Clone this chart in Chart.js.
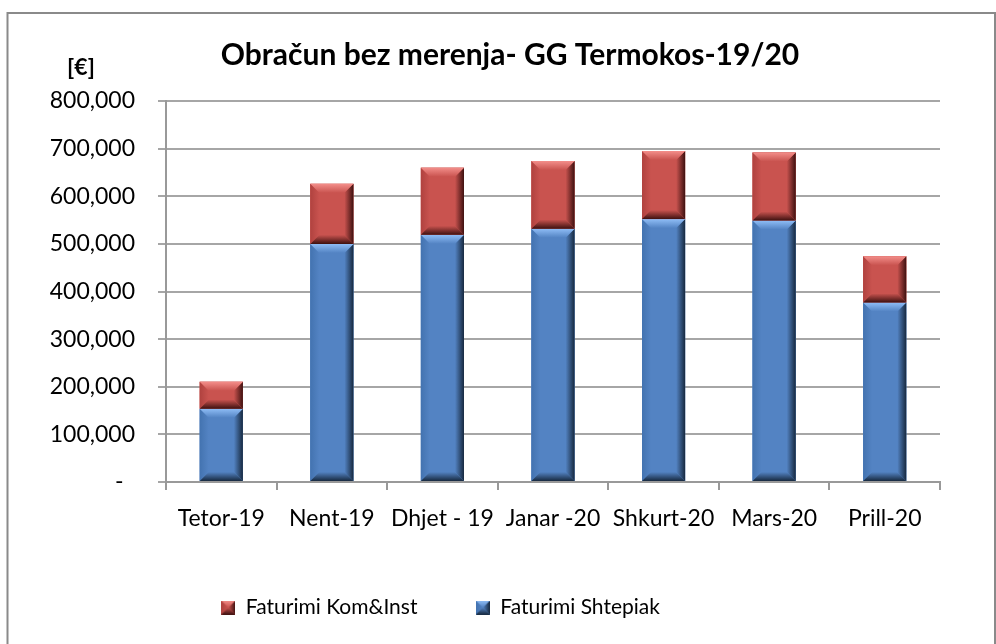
<!DOCTYPE html>
<html>
<head>
<meta charset="utf-8">
<script src="https://cdn.jsdelivr.net/npm/chart.js@4.4.1/dist/chart.umd.min.js"></script>
<style>
  html, body { margin: 0; padding: 0; background: #fff; }
  #wrap { width: 996px; height: 644px; }
</style>
</head>
<body>
<div id="wrap"><canvas id="chart" width="996" height="644"></canvas></div>
<script>
// data
const months = ['Tetor-19', 'Nent-19', 'Dhjet - 19', 'Janar -20', 'Shkurt-20', 'Mars-20', 'Prill-20'];
const shtepiak = [154000, 500000, 519000, 532000, 552000, 549000, 377000];
const komInst = [56500, 126000, 141000, 142000, 143000, 143000, 97000];
const yTicks = [0, 100000, 200000, 300000, 400000, 500000, 600000, 700000, 800000];

const FONT = 'Lato, "Open Sans", sans-serif';

const blue = { face: '#5383C3', light: '#8FBDF6', dark: '#17293F', left: '#4373B0' };
const red = { face: '#C9534F', light: '#F38E8A', dark: '#3E1110', left: '#B0423F' };

// bevelled box, Excel "cool slant" look
function drawBevel(ctx, l, t, r, b, c, size) {
  const d = Math.min(size, (b - t) / 2, (r - l) / 2);
  ctx.save();
  ctx.fillStyle = c.face;
  ctx.fillRect(l, t, r - l, b - t);

  let g = ctx.createLinearGradient(l, 0, l + d, 0);
  g.addColorStop(0, c.left); g.addColorStop(1, c.face);
  ctx.fillStyle = g;
  ctx.beginPath();
  ctx.moveTo(l, t); ctx.lineTo(l + d, t + d); ctx.lineTo(l + d, b - d); ctx.lineTo(l, b);
  ctx.closePath(); ctx.fill();

  g = ctx.createLinearGradient(r - d, 0, r, 0);
  g.addColorStop(0, c.face); g.addColorStop(1, c.dark);
  ctx.fillStyle = g;
  ctx.beginPath();
  ctx.moveTo(r, t); ctx.lineTo(r - d, t + d); ctx.lineTo(r - d, b - d); ctx.lineTo(r, b);
  ctx.closePath(); ctx.fill();

  g = ctx.createLinearGradient(0, b - d, 0, b);
  g.addColorStop(0, c.face); g.addColorStop(1, c.dark);
  ctx.fillStyle = g;
  ctx.beginPath();
  ctx.moveTo(l, b); ctx.lineTo(l + d, b - d); ctx.lineTo(r - d, b - d); ctx.lineTo(r, b);
  ctx.closePath(); ctx.fill();

  g = ctx.createLinearGradient(0, t, 0, t + d);
  g.addColorStop(0, c.light); g.addColorStop(1, c.face);
  ctx.fillStyle = g;
  ctx.beginPath();
  ctx.moveTo(l, t); ctx.lineTo(r, t); ctx.lineTo(r - d, t + d); ctx.lineTo(l + d, t + d);
  ctx.closePath(); ctx.fill();
  ctx.restore();
}

function legendIcon(c) {
  const cv = document.createElement('canvas');
  cv.width = 14; cv.height = 14;
  drawBevel(cv.getContext('2d'), 0, 0, 14, 14, c, 7);
  return cv;
}

const bevelBars = {
  id: 'bevelBars',
  afterDatasetsDraw(chart) {
    const ctx = chart.ctx;
    chart.data.datasets.forEach((ds, i) => {
      const meta = chart.getDatasetMeta(i);
      meta.data.forEach(bar => {
        const p = bar.getProps(['x', 'y', 'base', 'width'], true);
        const l = p.x - p.width / 2, r = p.x + p.width / 2;
        drawBevel(ctx, l, Math.min(p.y, p.base), r, Math.max(p.y, p.base), ds.bevel, 9);
      });
    });
  }
};

const frame = {
  id: 'frame',
  beforeDraw(chart) {
    const ctx = chart.ctx;
    ctx.save();
    ctx.fillStyle = '#fff';
    ctx.fillRect(0, 0, chart.width, chart.height);
    ctx.strokeStyle = '#8a8a8a';
    ctx.lineWidth = 2;
    ctx.strokeRect(7.5, 13, 987.5, 700);
    ctx.restore();
  },
  afterDraw(chart) {
    const ctx = chart.ctx;
    ctx.save();
    ctx.fillStyle = '#000';
    ctx.textAlign = 'center';
    ctx.textBaseline = 'middle';
    ctx.font = 'bold 30px ' + FONT;
    ctx.fillText('Obračun bez merenja- GG Termokos-19/20', 510, 55);
    ctx.font = 'bold 23px ' + FONT;
    ctx.fillText('[€]', 81, 68);
    ctx.restore();
  }
};

const datasets = [
  { label: 'Faturimi Shtepiak', data: shtepiak, backgroundColor: blue.face, bevel: blue, icon: legendIcon(blue) },
  { label: 'Faturimi Kom&Inst', data: komInst, backgroundColor: red.face, bevel: red, icon: legendIcon(red) }
];

new Chart(document.getElementById('chart'), {
  type: 'bar',
  data: { labels: months, datasets: datasets },
  plugins: [frame, bevelBars],
  options: {
    responsive: false,
    animation: false,
    layout: { padding: { top: 101, left: 20, right: 56, bottom: 16 } },
    datasets: { bar: { categoryPercentage: 0.39, barPercentage: 1, borderWidth: 0 } },
    scales: {
      x: {
        stacked: true,
        grid: { display: true, drawOnChartArea: false, offset: true, color: '#999', lineWidth: 2, tickLength: 8 },
        border: { color: '#999', width: 2 },
        ticks: { color: '#000', font: { family: FONT, size: 23 }, padding: 15, maxRotation: 0 },
        afterFit(scale) { scale.height = 75; }
      },
      y: {
        stacked: true,
        min: 0,
        max: 800000,
        afterBuildTicks(scale) { scale.ticks = yTicks.map(v => ({ value: v })); },
        grid: { color: '#a6a6a6', lineWidth: 2, tickLength: 8 },
        border: { color: '#999', width: 2 },
        ticks: {
          color: '#000',
          font: { family: FONT, size: 23 },
          padding: 23,
          callback: v => v === 0 ? '-\u2002' : v.toLocaleString('en-US')
        },
        afterFit(scale) { scale.width = 146; }
      }
    },
    plugins: {
      tooltip: { enabled: false },
      legend: {
        position: 'bottom',
        labels: {
          usePointStyle: true,
          boxWidth: 14,
          boxHeight: 14,
          padding: 40,
          color: '#000',
          font: { family: FONT, size: 21 },
          generateLabels(chart) {
            // trailing spaces only widen the gaps the way the original legend is spaced
            const tail = ['\u2003\u2003\u2003\u2003\u2003', '\u2003\u2009'];
            return chart.data.datasets.map((ds, i) => ({
              text: ds.label + tail[i],
              pointStyle: ds.icon,
              fillStyle: ds.backgroundColor,
              strokeStyle: ds.backgroundColor,
              lineWidth: 0,
              hidden: false,
              datasetIndex: i
            })).reverse();
          }
        }
      }
    }
  }
});
</script>
</body>
</html>
